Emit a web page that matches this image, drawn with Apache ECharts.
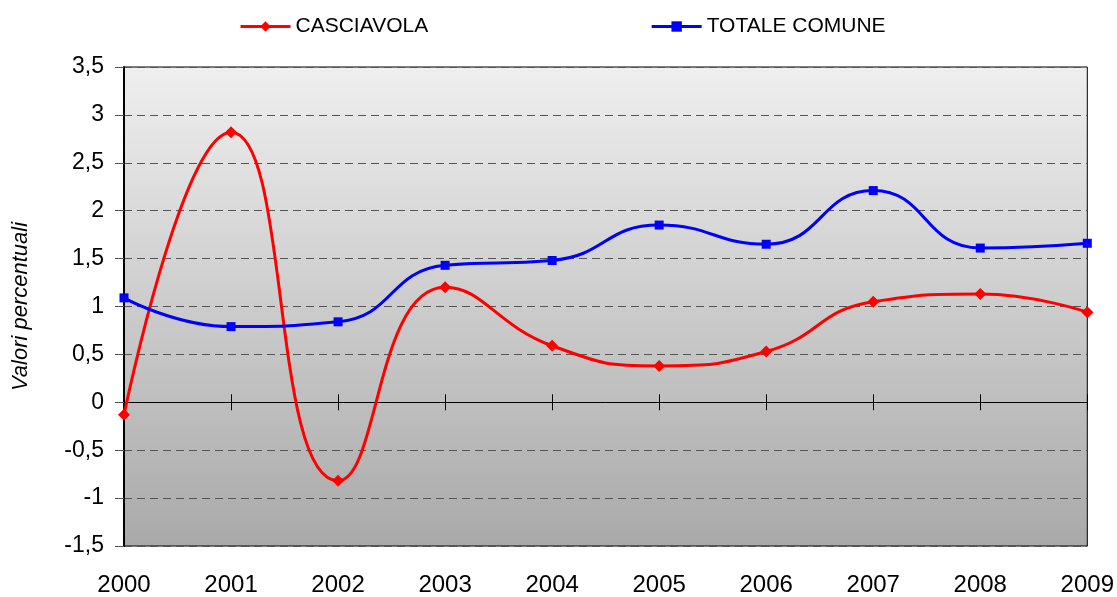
<!DOCTYPE html>
<html>
<head>
<meta charset="utf-8">
<script src="https://cdn.jsdelivr.net/npm/echarts@6/dist/echarts.min.js"></script>
<style>
  html, body { margin: 0; padding: 0; background: #fff; }
  #chart { width: 1117px; height: 597px; }
</style>
</head>
<body>
<div id="chart"></div>
<script>
var years = ['2000', '2001', '2002', '2003', '2004', '2005', '2006', '2007', '2008', '2009'];
var casciavola = [-0.13, 2.82, -0.82, 1.20, 0.59, 0.38, 0.53, 1.05, 1.13, 0.94];
var totaleComune = [1.09, 0.79, 0.84, 1.43, 1.48, 1.85, 1.65, 2.21, 1.61, 1.66];

var font = 'Liberation Sans, Arial, sans-serif';

var chart = echarts.init(document.getElementById('chart'));
var option = {
    animation: false,
    textStyle: { fontFamily: font },
    legend: {
        top: 11,
        left: 234,
        itemWidth: 50,
        itemHeight: 13,
        itemGap: 222,
        lineStyle: { width: 3 },
        textStyle: { fontSize: 21, color: '#000', fontFamily: font },
        data: ['CASCIAVOLA', 'TOTALE COMUNE']
    },
    grid: {
        left: 124,
        right: 28,
        top: 67,
        bottom: 50,
        show: true,
        borderColor: '#000',
        borderWidth: 1,
        backgroundColor: new echarts.graphic.LinearGradient(0, 0, 0, 1, [
            { offset: 0, color: '#efefef' },
            { offset: 1, color: '#a9a9a9' }
        ])
    },
    xAxis: [{
        type: 'category',
        data: years,
        boundaryGap: false,
        position: 'bottom',
        axisLine: { show: false, onZero: false },
        axisTick: { show: false },
        axisLabel: { fontSize: 24, color: '#000', margin: 27, fontFamily: font }
    }, {
        type: 'category',
        data: years,
        boundaryGap: false,
        axisLine: { show: true, onZero: true, lineStyle: { color: '#000', width: 1 } },
        axisTick: { show: true, length: 8, inside: false, lineStyle: { color: '#000' } },
        axisLabel: { show: false }
    }, {
        type: 'category',
        data: years,
        boundaryGap: false,
        axisLine: { show: false, onZero: true, onZeroAxisIndex: 1 },
        axisTick: { show: true, length: 8, inside: true, lineStyle: { color: '#000' } },
        axisLabel: { show: false }
    }],
    yAxis: [{
        type: 'value',
        min: -1.5,
        max: 3.5,
        interval: 0.5,
        name: 'Valori percentuali',
        nameLocation: 'middle',
        nameGap: 92,
        nameTextStyle: { fontSize: 22, fontStyle: 'italic', color: '#000', fontFamily: font },
        axisLine: { show: true, lineStyle: { color: '#000', width: 2 } },
        axisTick: { show: true, length: 9, lineStyle: { color: '#555' } },
        axisLabel: {
            fontSize: 23, color: '#000', margin: 20, fontFamily: font,
            formatter: function (v) { return String(v).replace('.', ','); }
        },
        splitLine: { show: true, lineStyle: { color: '#555', type: [8, 5], width: 1 } }
    }, {
        type: 'value',
        min: -1.5,
        max: 3.5,
        show: false
    }],
    series: [{
        name: 'CASCIAVOLA',
        type: 'line',
        xAxisIndex: 0,
        data: casciavola,
        smooth: 0.5,
        symbol: 'diamond',
        symbolSize: 12,
        lineStyle: { color: '#ff0000', width: 3 },
        itemStyle: { color: '#ff0000' },
        z: 3
    }, {
        name: 'TOTALE COMUNE',
        type: 'line',
        xAxisIndex: 0,
        data: totaleComune,
        smooth: 0.5,
        symbol: 'rect',
        symbolSize: 9,
        lineStyle: { color: '#0000ff', width: 3 },
        itemStyle: { color: '#0000ff' },
        z: 4
    }]
};
chart.setOption(option);
</script>
</body>
</html>
